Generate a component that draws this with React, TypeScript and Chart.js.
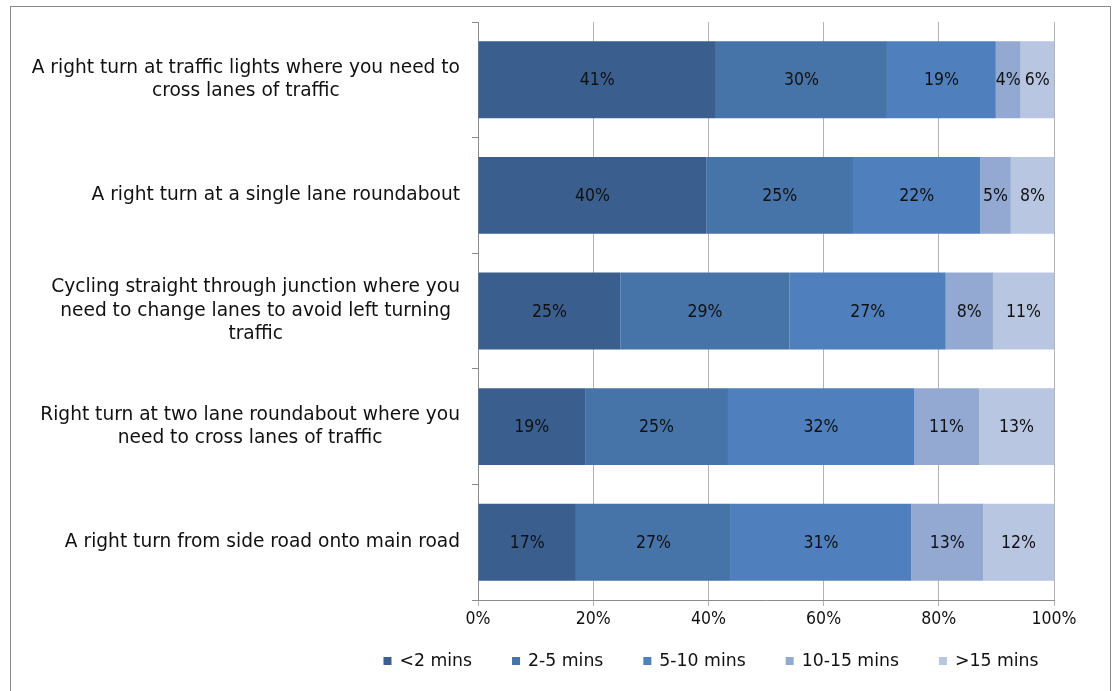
import React, { useEffect, useRef } from 'react';
import { Chart, registerables } from 'chart.js';

Chart.register(...registerables);

const categories: string[][] = [
  ['A right turn at traffic lights where you need to', 'cross lanes of traffic'],
  ['A right turn at a single lane roundabout'],
  ['Cycling straight through junction where you', 'need to change lanes to avoid left turning', 'traffic'],
  ['Right turn at two lane roundabout where you', 'need to cross lanes of traffic'],
  ['A right turn from side road onto main road'],
];

const seriesNames = ['<2 mins', '2-5 mins', '5-10 mins', '10-15 mins', '>15 mins'];

const under2 = [41.3, 39.7, 24.7, 18.6, 17.0];
const from2to5 = [29.7, 25.4, 29.4, 24.8, 26.9];
const from5to10 = [18.9, 22.1, 27.1, 32.3, 31.3];
const from10to15 = [4.3, 5.3, 8.2, 11.3, 12.5];
const over15 = [5.8, 7.5, 10.6, 13.0, 12.3];

const seriesValues = [under2, from2to5, from5to10, from10to15, over15];

const xMin = 0;
const xMax = 100;
const xStep = 20;

const seriesColors = ['#3A5F8F', '#4673A8', '#4F80BD', '#93A9D2', '#B9C6E1'];

const FONT = '"DejaVu Sans", Verdana, sans-serif';
const NUM_FONT = '"DejaVu Sans Condensed", "DejaVu Sans", sans-serif';

const yLabelPlugin = {
  id: 'yLabelPlugin',
  afterDraw(chart: any) {
    const ctx = chart.ctx;
    const y = chart.scales.y;
    ctx.save();
    ctx.font = `18.6px ${FONT}`;
    ctx.fillStyle = '#111';
    ctx.textBaseline = 'middle';
    ctx.textAlign = 'center';
    const right = chart.chartArea.left - 18;
    const lh = 23.5;
    categories.forEach((lines, i) => {
      const cy = y.getPixelForValue(i);
      const maxW = Math.max(...lines.map((l) => ctx.measureText(l).width));
      const cx = right - maxW / 2;
      lines.forEach((l, j) => {
        ctx.fillText(l, cx, cy + (j - (lines.length - 1) / 2) * lh);
      });
    });
    ctx.restore();
  },
};

const dataLabelPlugin = {
  id: 'dataLabelPlugin',
  afterDatasetsDraw(chart: any) {
    const ctx = chart.ctx;
    ctx.save();
    ctx.font = `17.5px ${NUM_FONT}`;
    ctx.fillStyle = '#111';
    ctx.textBaseline = 'middle';
    ctx.textAlign = 'center';
    chart.data.datasets.forEach((ds: any, di: number) => {
      const meta = chart.getDatasetMeta(di);
      meta.data.forEach((bar: any, i: number) => {
        const v = ds.data[i];
        const cx = (bar.x + bar.base) / 2;
        ctx.fillText(`${Math.round(v)}%`, cx, bar.y + 1);
      });
    });
    ctx.restore();
  },
};

const legendPlugin = {
  id: 'customLegend',
  afterDraw(chart: any) {
    const ctx = chart.ctx;
    ctx.save();
    ctx.font = `17.3px ${FONT}`;
    ctx.textBaseline = 'middle';
    ctx.textAlign = 'left';
    const box = 8;
    const gapText = 8;
    const gapItem = 40;
    const widths = seriesNames.map((n) => ctx.measureText(n).width);
    const total = widths.reduce((a, w) => a + box + gapText + w, 0) + gapItem * (seriesNames.length - 1);
    let x = 711 - total / 2;
    const cy = 661;
    seriesNames.forEach((n, i) => {
      ctx.fillStyle = seriesColors[i];
      ctx.fillRect(x, cy - box / 2, box, box);
      ctx.fillStyle = '#111';
      ctx.fillText(n, x + box + gapText, cy + 1);
      x += box + gapText + widths[i] + gapItem;
    });
    ctx.restore();
  },
};

export default function App() {
  const canvasRef = useRef<HTMLCanvasElement | null>(null);

  useEffect(() => {
    if (!canvasRef.current) return;
    const chart = new Chart(canvasRef.current, {
      type: 'bar',
      data: {
        labels: categories.map((l) => l.join(' ')),
        datasets: seriesValues.map((vals, i) => ({
          label: seriesNames[i],
          data: vals,
          backgroundColor: seriesColors[i],
          borderWidth: 0,
          categoryPercentage: 1,
          barPercentage: 0.665,
        })),
      },
      options: {
        indexAxis: 'y',
        animation: false,
        responsive: false,
        layout: { padding: { left: 250, right: 64, top: 22, bottom: 61 } },
        plugins: {
          legend: { display: false },
          tooltip: { enabled: false },
        },
        scales: {
          x: {
            stacked: true,
            min: xMin,
            max: xMax,
            ticks: {
              stepSize: xStep,
              callback: (v: any) => `${v}%`,
              font: { family: NUM_FONT, size: 17.5 },
              color: '#111',
              padding: 3,
            },
            grid: { color: '#B4B4B4', lineWidth: 1, tickLength: 6 },
            border: { display: true, color: '#8C8C8C' },
            afterFit: (scale: any) => {
              scale.height = 30;
            },
          },
          y: {
            stacked: true,
            ticks: { display: false },
            grid: { drawOnChartArea: false, tickLength: 6, color: '#8C8C8C' },
            border: { display: true, color: '#8C8C8C' },
            afterFit: (scale: any) => {
              scale.width = 228;
            },
          },
        },
      } as any,
      plugins: [yLabelPlugin, dataLabelPlugin, legendPlugin],
    });
    return () => chart.destroy();
  }, []);

  return (
    <div style={{ position: 'absolute', left: 0, top: 0, width: 1118, height: 691, background: '#fff', overflow: 'hidden' }}>
      <canvas ref={canvasRef} width={1118} height={691} style={{ display: 'block' }} />
      <div
        style={{
          position: 'absolute',
          left: 10,
          top: 6,
          width: 1101,
          height: 700,
          border: '1px solid #8A8A8A',
          boxSizing: 'border-box',
          pointerEvents: 'none',
        }}
      />
    </div>
  );
}
